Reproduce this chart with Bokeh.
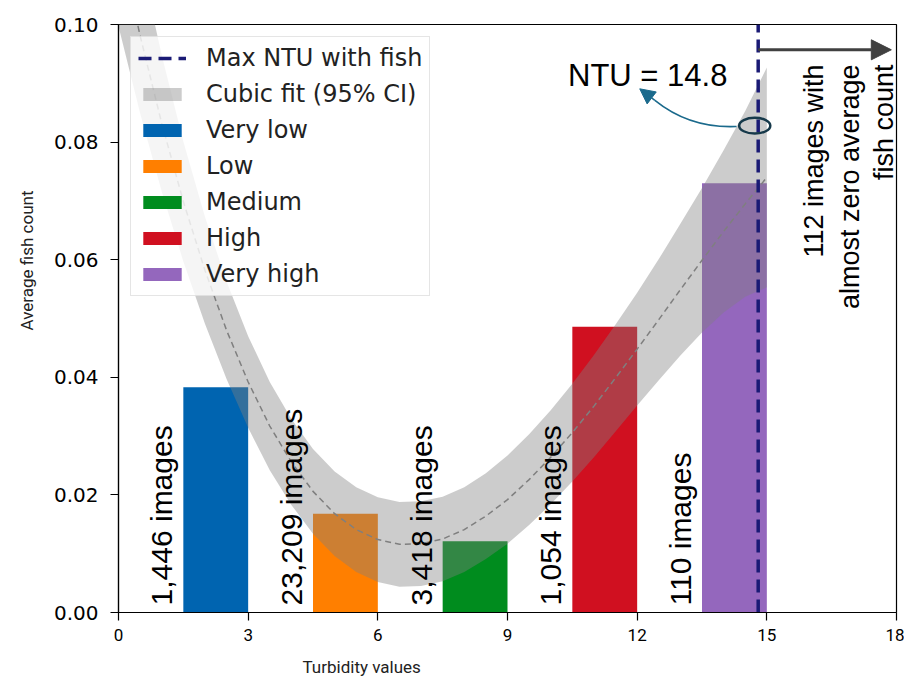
import math
from bokeh.plotting import figure
from bokeh.models import (Range1d, FixedTicker, NumeralTickFormatter, Legend, LegendItem,
                          Label, Arrow, NormalHead, ColumnDataSource, Title)
from bokeh.core.properties import value
from bokeh.embed import file_html
from bokeh.resources import INLINE

# ---------------- data ----------------
categories = ["Very low", "Low", "Medium", "High", "Very high"]
bar_left = [1.5, 4.5, 7.5, 10.5, 13.5]
bar_right = [3.0, 6.0, 9.0, 12.0, 15.0]
avg_fish = [0.0383, 0.0168, 0.0121, 0.0486, 0.0730]
image_labels = ["1,446 images", "23,209 images", "3,418 images", "1,054 images", "110 images"]
bar_colors = ["#0064b0", "#ff7f00", "#008c1e", "#d01020", "#9467bd"]

max_ntu = 14.8

fit_x = [0.0, 0.5, 1.0, 1.5, 2.0, 2.5, 3.0, 3.5, 4.0, 4.5, 5.0, 5.5, 6.0, 6.5, 7.0, 7.5,
         8.0, 8.5, 9.0, 9.5, 10.0, 10.5, 11.0, 11.5, 12.0, 12.5, 13.0, 13.5, 14.0, 14.5, 15.0]
fit_y = [0.1147, 0.0981, 0.0832, 0.0699, 0.0582, 0.0480, 0.0392, 0.0317, 0.0256, 0.0206,
         0.0168, 0.0141, 0.0124, 0.0116, 0.0117, 0.0125, 0.0141, 0.0164, 0.0192, 0.0226,
         0.0264, 0.0306, 0.0351, 0.0399, 0.0448, 0.0498, 0.0549, 0.0599, 0.0648, 0.0695, 0.0740]
ci_lo = [0.0997, 0.0849, 0.0716, 0.0597, 0.0491, 0.0397, 0.0314, 0.0242, 0.0183, 0.0134,
         0.0096, 0.0069, 0.0052, 0.0044, 0.0045, 0.0053, 0.0069, 0.0091, 0.0117, 0.0149,
         0.0184, 0.0223, 0.0264, 0.0308, 0.0352, 0.0395, 0.0437, 0.0476, 0.0510, 0.0537, 0.0553]
ci_hi = [0.1297, 0.1113, 0.0948, 0.0801, 0.0673, 0.0563, 0.0470, 0.0392, 0.0329, 0.0278,
         0.0240, 0.0213, 0.0196, 0.0188, 0.0189, 0.0197, 0.0213, 0.0237, 0.0267, 0.0303,
         0.0344, 0.0389, 0.0438, 0.0490, 0.0544, 0.0601, 0.0661, 0.0722, 0.0786, 0.0853, 0.0927]

x_ticks = [0, 3, 6, 9, 12, 15, 18]
y_ticks = [0.0, 0.02, 0.04, 0.06, 0.08, 0.10]

note_lines = ["112 images with", "almost zero average", "fish count"]

AXFONT = "Roboto"

# ---------------- figure ----------------
p = figure(frame_width=778, frame_height=588,
           x_range=Range1d(0, 18), y_range=Range1d(0, 0.1),
           output_backend="svg", toolbar_location=None,
           min_border_left=118, min_border_right=8, min_border_top=24, min_border_bottom=70)
p.background_fill_color = "white"
p.border_fill_color = "white"
p.xgrid.visible = False
p.ygrid.visible = False
p.outline_line_color = "black"
p.outline_line_width = 1.2
p.outline_line_alpha = 1.0

for ax in (p.xaxis[0], p.yaxis[0]):
    ax.axis_line_color = "black"
    ax.axis_line_width = 1.2
    ax.major_tick_line_color = "black"
    ax.major_tick_line_width = 1.2
    ax.major_tick_in = 0
    ax.major_tick_out = 8
    ax.minor_tick_line_color = None
    ax.major_label_text_color = "black"

p.xaxis.ticker = FixedTicker(ticks=x_ticks)
p.xaxis.major_label_text_font = AXFONT
p.xaxis.major_label_text_font_size = "17px"
p.xaxis.major_label_standoff = 8
p.yaxis.ticker = FixedTicker(ticks=y_ticks)
p.yaxis.formatter = NumeralTickFormatter(format="0.00")
p.yaxis.major_label_text_font = "DejaVu Sans"
p.yaxis.major_label_text_font_size = "20px"
p.yaxis.major_label_standoff = 12

# axis titles, placed off-centre as in the reference
p.add_layout(Title(text="Turbidity values", align="left", offset=184, standoff=22,
                   text_font=AXFONT, text_font_size="17px", text_font_style="normal",
                   text_color="#222222"), "below")
p.add_layout(Title(text="Average fish count", align="left", offset=282, standoff=27,
                   text_font=AXFONT, text_font_size="17px", text_font_style="normal",
                   text_color="#222222"), "left")

# bars
bar_src = ColumnDataSource(dict(left=bar_left, right=bar_right, top=avg_fish,
                                color=bar_colors, cat=categories))
bars = p.quad(left="left", right="right", bottom=0, top="top", fill_color="color",
              line_color=None, source=bar_src)

# confidence band + fit line
band = p.varea(x=fit_x, y1=ci_lo, y2=ci_hi, fill_color="#808080", fill_alpha=0.4)
p.line(fit_x, fit_y, line_color="#7f7f7f", line_dash="6 4", line_width=1.5)

# max NTU vertical line
vline = p.line([max_ntu, max_ntu], [p.y_range.start, p.y_range.end],
               line_color="#1a1a75", line_width=3.5, line_dash="13 7")

# bar labels (rotated)
lab_src = ColumnDataSource(dict(x=[l - 0.5 for l in bar_left],
                                y=[0.0012] * len(bar_left), text=image_labels))
p.text(x="x", y="y", text="text", source=lab_src, angle=math.pi / 2,
       text_align="left", text_baseline="middle", text_font=value("Liberation Sans"),
       text_font_size="30px", text_color="black")

# NTU annotation
p.add_layout(Label(x=10.40, y=0.0913, text=f"NTU = {max_ntu}", text_font="Liberation Sans",
                   text_font_size="31px", text_color="black", text_baseline="alphabetic",
                   text_align="left"))
p.ellipse(x=[14.72], y=[0.0828], width=[0.72], height=[0.0027], fill_color=None,
          line_color="#16394a", line_width=2.5)
p.quadratic(x0=[14.30], y0=[0.08265], x1=[12.41], y1=[0.0871], cx=[13.22], cy=[0.0823],
            line_color="#1b6a8c", line_width=1.6)
p.add_layout(Arrow(x_start=12.41, y_start=0.0871, x_end=12.06, y_end=0.08906,
                   line_color="#1b6a8c", line_width=1.6,
                   end=NormalHead(size=15, fill_color="#1b6a8c", line_color="#1b6a8c")))

# black arrow to the right
p.add_layout(Arrow(x_start=max_ntu, y_start=0.0957, x_end=17.88, y_end=0.0957,
                   line_color="#404040", line_width=3,
                   end=NormalHead(size=20, fill_color="#404040", line_color="#404040")))

note_x = [16.08, 16.92, 17.72]
for nx, t in zip(note_x, note_lines):
    p.add_layout(Label(x=nx, y=0.0932, text=t, angle=math.pi / 2, text_align="right",
                       text_baseline="middle", text_font="Liberation Sans",
                       text_font_size="27px", text_color="black"))

# legend
items = [LegendItem(label="Max NTU with fish", renderers=[vline]),
         LegendItem(label="Cubic fit (95% CI)", renderers=[band])]
for i, c in enumerate(categories):
    items.append(LegendItem(label=c, renderers=[bars], index=i))
legend = Legend(items=items, location="top_left", margin=12, padding=7, spacing=8,
                glyph_width=48, glyph_height=16, label_height=27, label_standoff=20,
                label_text_font="DejaVu Sans", label_text_font_size="24px",
                label_text_color="#222222",
                background_fill_color="white", background_fill_alpha=0.8,
                border_line_color="#cccccc", border_line_width=1)
p.add_layout(legend, "center")

open("out.html", "w").write(file_html(p, INLINE))
